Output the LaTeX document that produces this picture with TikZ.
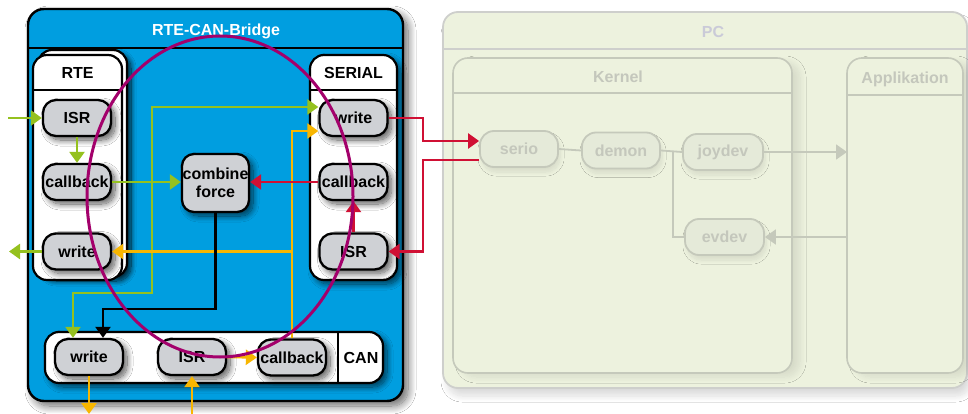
\documentclass[tikz,border=0pt]{standalone}
\usepackage{fontspec}
\setmainfont{Liberation Sans}
\usetikzlibrary{arrows.meta,shadows.blur}

\definecolor{bridgeblue}{RGB}{0,158,224}
\definecolor{nodegray}{RGB}{207,209,213}
\definecolor{sigGreen}{RGB}{149,193,31}
\definecolor{sigOrange}{RGB}{248,182,0}
\definecolor{sigRed}{RGB}{208,16,52}
\definecolor{loopPurple}{RGB}{163,0,107}
\definecolor{pcFill}{RGB}{237,242,222}
\definecolor{pcLine}{RGB}{206,207,204}
\definecolor{pcInner}{RGB}{197,201,187}
\definecolor{pcText}{RGB}{196,199,188}
\definecolor{pcTitle}{RGB}{202,202,216}
\definecolor{pcNode}{RGB}{229,234,217}

\tikzset{
  lbl/.style={font=\bfseries\fontsize{16}{18}\selectfont, inner sep=0pt},
  fn/.style={lbl, draw=black, line width=2.3pt, fill=nodegray,
    rounded corners=13pt, minimum width=68pt, minimum height=36pt,
    align=center,
    blur shadow={shadow xshift=4pt, shadow yshift=-4pt,
      shadow blur radius=6pt, shadow blur steps=14, shadow opacity=65}},
  frame/.style={draw=black, line width=2.2pt, fill=white, rounded corners=14pt},
  sig/.style={line width=2.5pt, -{Triangle[length=11pt,width=15pt]}},
  pcbox/.style={draw=pcInner, line width=1.6pt, fill=pcFill, rounded corners=15pt,
    blur shadow={shadow xshift=8pt, shadow yshift=-4pt,
      shadow blur radius=6pt, shadow blur steps=14, shadow opacity=9}},
  pcn/.style={lbl, draw=pcInner, line width=1.8pt, fill=pcNode,
    rounded corners=14pt, minimum width=78pt, minimum height=36pt, text=pcText,
    blur shadow={shadow xshift=2pt, shadow yshift=-5pt,
      shadow blur radius=4pt, shadow blur steps=12, shadow opacity=9}},
  pcsig/.style={draw=pcInner, line width=1.8pt, -{Triangle[length=11pt,width=15pt]}},
}

\begin{document}
\begin{tikzpicture}[x=1pt,y=-1pt]
\useasboundingbox (0,0) rectangle (968,414);
\fill[white] (0,0) rectangle (968,414);

% ---------------- PC ----------------
\draw[draw=pcLine, line width=1.8pt, fill=pcFill, rounded corners=15pt,
  blur shadow={shadow xshift=4pt, shadow yshift=-8pt, shadow blur radius=6pt,
    shadow blur steps=14, shadow opacity=14}]
  (443,12) rectangle (967,388);
\draw[pcLine, line width=1.8pt] (443,49) -- (967,49);
\node[lbl, text=pcTitle] (pcTitle) at (713,32) {PC};

\draw[pcbox] (453,58) rectangle (792,373);
\draw[pcInner, line width=1.6pt] (453,93) -- (792,93);
\node[lbl, text=pcText] (kernelTitle) at (618,77) {Kernel};

\draw[pcbox] (847,58) rectangle (963,373);
\draw[pcInner, line width=1.6pt] (847,95) -- (963,95);
\node[lbl, text=pcText] (appTitle) at (905,79) {Applikation};

\node[pcn] (serio)  at (519,149) {serio};
\node[pcn] (demon)  at (621,150.5) {demon};
\node[pcn, minimum width=80pt] (joydev) at (723,152) {joydev};
\node[pcn, minimum width=79pt] (evdev)  at (724.5,237) {evdev};

\coordinate (appIn)  at (847,152);
\coordinate (appOut) at (847,237);
\coordinate (kSplit) at (673,151);

\draw[pcInner, line width=1.8pt] (serio.east) -- (demon.west);
\draw[pcInner, line width=1.8pt] (demon.east) -- (joydev.west);
\draw[pcInner, line width=1.8pt] (kSplit) |- (evdev.west);
\draw[pcsig] (joydev.east) -- (appIn);
\draw[pcsig] (appOut) -- (evdev.east);

% ---------------- RTE-CAN-Bridge ----------------
\draw[draw=black, line width=2.4pt, fill=bridgeblue, rounded corners=16pt,
  blur shadow={shadow xshift=5pt, shadow yshift=-5pt, shadow blur radius=8pt,
    shadow blur steps=14, shadow opacity=60}]
  (28,9) rectangle (403,401);
\draw[line width=2.4pt] (28,48) -- (403,48);
\node[lbl, text=white] (bridgeTitle) at (216,31) {RTE-CAN-Bridge};

% RTE stack
\draw[frame, blur shadow={shadow xshift=4pt, shadow yshift=-4pt, shadow blur radius=5pt,
    shadow blur steps=12, shadow opacity=80}]
  (38,50) rectangle (127,277);
\draw[frame] (33,55) rectangle (122,280);
\draw[line width=2.2pt] (33,90) -- (122,90);
\node[lbl] (rteTitle) at (77.5,73) {RTE};

% SERIAL
\draw[frame, blur shadow={shadow xshift=4pt, shadow yshift=-4pt, shadow blur radius=6pt,
    shadow blur steps=12, shadow opacity=65}]
  (310,55) rectangle (397,280);
\draw[line width=2.2pt] (310,90) -- (397,90);
\node[lbl] (serTitle) at (353.5,73) {SERIAL};

% CAN bar
\draw[frame, blur shadow={shadow xshift=4pt, shadow yshift=-4pt, shadow blur radius=6pt,
    shadow blur steps=12, shadow opacity=65}]
  (45,332) rectangle (383,383);
\draw[line width=2.2pt] (338,332) -- (338,383);
\node[lbl] (canTitle) at (361,357.5) {CAN};

% function blocks
\node[fn] (rteIsr) at (77,118) {ISR};
\node[fn] (rteCb)  at (77,182) {callback};
\node[fn] (rteWr)  at (77,251.5) {write};

\node[fn] (serWr)  at (353.5,118) {write};
\node[fn] (serCb)  at (353.5,182) {callback};
\node[fn] (serIsr) at (353.5,251.5) {ISR};

\node[fn, minimum width=67pt, minimum height=58pt, rounded corners=12pt]
  (combine) at (215.5,183) {combine\\force};

\node[fn] (canWr)  at (89,357) {write};
\node[fn] (canIsr) at (192,357) {ISR};
\node[fn] (canCb)  at (292,357.5) {callback};

% free ends
\coordinate (inL)    at (8,118);
\coordinate (outL)   at (9,251.5);
\coordinate (canOut) at (89,414);
\coordinate (canIn)  at (192,416);
\coordinate (gSplit) at (152,182);
\coordinate (rTurn)  at (423,160);

% green signals
\draw[sig, sigGreen] (inL) -- (rteIsr.west);
\draw[sig, sigGreen] (rteIsr.south) -- (rteCb.north);
\draw[sig, sigGreen] (rteCb.east) -- (rteCb.east -| combine.west);
\draw[sig, sigGreen] (gSplit) |- ([yshift=11pt]serWr.west);
\draw[sig, sigGreen] (gSplit) -- (152,293) -| ([xshift=-16pt]canWr.north);
\draw[sig, sigGreen] (rteWr.west) -- (outL);

% orange signals
\draw[sig, sigOrange] (canCb.north) |- ([yshift=-13pt]serWr.west);
\draw[sig, sigOrange] (canCb.north |- rteWr.east) -- (rteWr.east);
\draw[sig, sigOrange] (canIsr.east) -- (canCb.west);
\draw[sig, sigOrange] (canWr.south) -- (canOut);
\draw[sig, sigOrange] (canIn) -- (canIsr.south);

% black signal
\draw[sig, black] (combine.south) -- (combine.south |- 0,309) -| ([xshift=14pt]canWr.north);

% red signals
\draw[sig, sigRed] (serWr.east) -- (serWr.east -| rTurn) |- ([yshift=8pt]serio.west);
\draw[sig, sigRed] ([yshift=-11pt]serio.west) -- (rTurn) |- (serIsr.east);
\draw[sig, sigRed] (serCb.west) -- (serCb.west -| combine.east);
\draw[sig, sigRed] (serIsr.north) -- (serCb.south);

% control loop
\draw[loopPurple, line width=3pt] (220,196.5) ellipse [x radius=133, y radius=160.5];
\end{tikzpicture}
\end{document}
